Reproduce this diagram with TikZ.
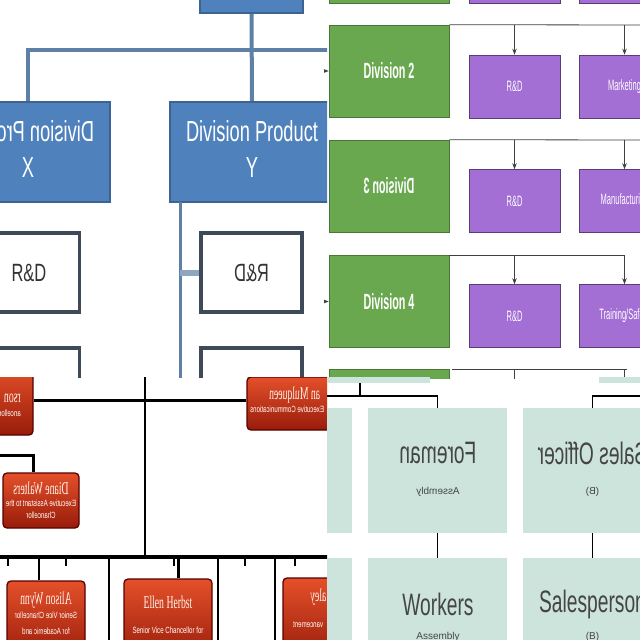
\documentclass[tikz,border=0pt]{standalone}
\usepackage{fontspec}
\setmainfont{Liberation Sans}
\newfontfamily\namefont{Liberation Serif}
\usepackage{graphicx}
\usepackage{xcolor}
\definecolor{divblue}{HTML}{4F81BD}
\definecolor{divblueline}{HTML}{3D6394}
\definecolor{linkblue}{HTML}{5E7FA6}
\definecolor{stubblue}{HTML}{8FA6C2}
\definecolor{slate}{HTML}{3E4A58}
\definecolor{divgreen}{HTML}{6AA84F}
\definecolor{deptpurple}{HTML}{A36FD4}
\definecolor{redtop}{HTML}{E4502A}
\definecolor{redbot}{HTML}{981C0A}
\definecolor{staffteal}{HTML}{CDE4DD}
\definecolor{tealtext}{HTML}{454545}
\usetikzlibrary{arrows.meta,positioning}
% squeezed (or mirrored) text
\newcommand{\sq}[2]{\scalebox{#1}[1]{#2}}
\newcommand{\twoline}[2]{\begin{tabular}{@{}c@{}}#1\\#2\end{tabular}}

\begin{document}
\begin{tikzpicture}[
  x=1pt, y=-1pt,
  divbox/.style={
    rectangle, inner sep=0pt,
    minimum width=164pt, minimum height=100pt,
    fill=divblue, draw=divblueline, line width=2pt,
    text=white, font=\fontsize{29}{36}\selectfont
  },
  rdbox/.style={
    rectangle, inner sep=0pt,
    minimum width=101pt, minimum height=79pt,
    fill=white, draw=slate, line width=3.5pt,
    text=black!80, font=\fontsize{25}{30}\selectfont
  },
  link/.style={draw=linkblue, line width=4pt},
  linkthin/.style={draw=linkblue, line width=3pt},
  stub/.style={draw=stubblue, line width=6pt},
  greenbox/.style={
    rectangle, inner sep=0pt,
    minimum width=120pt, minimum height=92pt,
    fill=divgreen, draw=divgreen!70!black, line width=0.6pt,
    text=white, font=\bfseries\fontsize{22}{26}\selectfont
  },
  deptbox/.style={
    rectangle, inner sep=0pt,
    minimum width=91pt, minimum height=63pt,
    fill=deptpurple, draw=deptpurple!55!black, line width=0.6pt,
    text=white, font=\fontsize{15}{18}\selectfont
  },
  tline/.style={draw=black!75, line width=0.8pt},
  tarrow/.style={tline, -{Stealth[length=6pt,width=4.5pt]}},
  redbox/.style={
    rectangle, rounded corners=4pt, inner sep=0pt,
    top color=redtop, bottom color=redbot,
    draw=black!65!red, line width=1.3pt
  },
  rname/.style={inner sep=0pt, text=white!92!orange, font=\namefont\fontsize{18}{20}\selectfont},
  rsub/.style={inner sep=0pt, text=white, font=\fontsize{9}{10}\selectfont},
  redline/.style={draw=black, line width=3pt},
  redthin/.style={draw=black, line width=1.6pt},
  staffbox/.style={
    rectangle, inner sep=0pt,
    minimum width=139pt, minimum height=125pt,
    fill=staffteal
  },
  bigtxt/.style={inner sep=0pt, text=tealtext, font=\fontsize{31}{36}\selectfont},
  smalltxt/.style={inner sep=0pt, text=tealtext, font=\fontsize{10}{12}\selectfont},
  brline/.style={draw=black, line width=1.6pt}
]
\fill[white] (0,0) rectangle (640,640);
\useasboundingbox (0,0) rectangle (640,640);

% top left: blue product divisions
\begin{scope}
\clip (0,0) rectangle (327,377);
\node[divbox, minimum width=103pt] (head) at (251.5,-37) {};
\node[divbox] (divX) at (28,152) {\sq{-0.63}{\twoline{Division Product}{X}}};
\node[divbox] (divY) at (252,152) {\sq{0.63}{\twoline{Division Product}{Y}}};
\node[rdbox] (rdX) at (29,272.5) {\sq{0.66}{R\&D}};
\node[rdbox] (rdY) at (251.5,272.5) {\sq{-0.66}{R\&D}};
\node[rdbox] (nextX) at (29,387.5) {};
\node[rdbox] (nextY) at (251.5,387.5) {};
\coordinate (busRight) at (332,50);
\coordinate (spineTop) at (180,202);
\coordinate (spineEnd) at (180,380);
\coordinate (stubY) at (180,272.5);
\draw[link] (head.south) -- (divY.north);
\draw[link] (divX.north) |- (busRight);
\draw[linkthin] (spineTop) -- (spineEnd);
\draw[stub] (stubY) -- (rdY.west);
\end{scope}

% top right: green divisions
\begin{scope}
\clip (324,0) rectangle (640,378);
\node[greenbox] (div1) at (389,-43) {};
\node[greenbox] (div2) at (389,71) {\sq{0.49}{Division 2}};
\node[greenbox] (div3) at (389,186) {\sq{-0.49}{Division 3}};
\node[greenbox] (div4) at (389,301.5) {\sq{0.49}{Division 4}};
\node[greenbox] (div5) at (389,415) {};
\node[deptbox] (rd1) at (514.5,-28.5) {};
\node[deptbox] (mk1) at (624.5,-28.5) {};
\node[deptbox] (rd2) at (514.5,86.5) {\sq{0.5}{R\&D}};
\node[deptbox] (mk2) at (624.5,86.5) {\sq{0.5}{Marketing}};
\node[deptbox] (rd3) at (514.5,201) {\sq{0.5}{R\&D}};
\node[deptbox] (mf3) at (624.5,201) {\sq{0.5}{Manufacturing}};
\node[deptbox] (rd4) at (514.5,316) {\sq{0.5}{R\&D}};
\node[deptbox] (ts4) at (624.5,316) {\sq{0.5}{Training/Safety}};
\node[deptbox] (rd5) at (514.5,430.5) {};
\node[deptbox] (ts5) at (624.5,430.5) {};
\coordinate (rowTwoEnd) at (645,25);
\coordinate (rowThreeEnd) at (645,140);
\coordinate (rowFiveStart) at (452,369);
\coordinate (rowFiveEnd) at (627,369);
\draw[tline] (div2.north east) -- (rowTwoEnd);
\draw[tline] (div3.north east) -- (rowThreeEnd);
\draw[tline] (div4.north east) -- (ts4.north |- div4.north);
\draw[tline] (rowFiveStart) -- (rowFiveEnd);
\draw[tarrow] (rd2.north |- div2.north) -- (rd2.north);
\draw[tarrow] (mk2.north |- div2.north) -- (mk2.north);
\draw[tarrow] (rd3.north |- div3.north) -- (rd3.north);
\draw[tarrow] (mf3.north |- div3.north) -- (mf3.north);
\draw[tarrow] (rd4.north |- div4.north) -- (rd4.north);
\draw[tarrow] (ts4.north |- div4.north) -- (ts4.north);
\draw[tarrow] (rd5.north |- rowFiveEnd) -- (rd5.north);
\draw[tarrow] (ts5.north |- rowFiveEnd) -- (ts5.north);
\draw[tarrow] ([xshift=-9pt]div2.west) -- (div2.west);
\draw[tarrow] ([xshift=-9pt]div4.west) -- (div4.west);
\end{scope}

% bottom left: red chancellor chart
\begin{scope}
\clip (0,377) rectangle (327,640);
\node[redbox, minimum width=80pt, minimum height=69pt] (chief) at (-7,400.5) {};
\node[redbox, minimum width=90pt, minimum height=53pt] (mulqueen) at (292,403.5) {};
\node[redbox, minimum width=76pt, minimum height=55pt] (diane) at (41,500.5) {};
\node[redbox, minimum width=78pt, minimum height=79pt] (alison) at (46,620.5) {};
\node[redbox, minimum width=88pt, minimum height=81pt] (ellen) at (168,619.5) {};
\node[redbox, minimum width=88pt, minimum height=82pt] (thirdVC) at (327,619) {};
\node[rname, anchor=east] (chiefN) at (21,398) {\sq{-0.54}{rson}};
\node[rsub, anchor=east] (chiefS) at (21,413) {\sq{-0.68}{ancellor}};
\node[rname, anchor=west] (mulqN) at (269,395) {\sq{-0.54}{an Mulqueen}};
\node[rsub, anchor=west] (mulqS) at (250,409) {\sq{-0.68}{Executive Communications}};
\node[rname] (dianeN) at (41,488) {\sq{-0.54}{Diane Walters}};
\node[rsub] (dianeS) at (41,503) {\sq{-0.68}{Executive Assistant to the}};
\node[rsub] (dianeT) at (41,515) {\sq{-0.68}{Chancellor}};
\node[rname] (alisonN) at (46,600) {\sq{-0.54}{Alison Wynn}};
\node[rsub] (alisonS) at (46,615) {\sq{-0.68}{Senior Vice Chancellor}};
\node[rsub] (alisonT) at (46,631) {\sq{-0.68}{for Academic and}};
\node[rname] (ellenN) at (168,602) {\sq{0.54}{Ellen Herbst}};
\node[rsub] (ellenS) at (168,630) {\sq{0.68}{Senior Vice Chancellor for}};
\node[rname, anchor=west] (thirdN) at (310,597) {\sq{-0.54}{aley}};
\node[rsub, anchor=west] (thirdS) at (293,625) {\sq{-0.68}{vancement}};
\coordinate (vcTop) at (145,370);
\coordinate (vcBus) at (145,557);
\coordinate (busL) at (-2,557);
\coordinate (busR) at (330,557);
\coordinate (dianeFrom) at (-2,455);
\draw[redline] (chief.east) -- (chief.east -| mulqueen.west);
\draw[redthin] (vcTop) -- (vcBus);
\draw[redline, line width=3.5pt] (busL) -- (busR);
\draw[redline] (dianeFrom) -| ([xshift=-8pt]diane.north);
\draw[redthin] ([xshift=-7pt]alison.north |- busR) -- ([xshift=-7pt]alison.north);
\draw[redline] ([xshift=10pt]ellen.north |- busR) -- ([xshift=10pt]ellen.north);
\foreach \tx in {8,66,174,245,295}
  \draw[redthin] (\tx,557) -- (\tx,566);
\foreach \tx in {109,218,275}
  \draw[redthin] (\tx,557) -- (\tx,645);
\end{scope}

% bottom right: teal staff boxes
\begin{scope}
\clip (327,377) rectangle (640,640);
\fill[staffteal] (327,376) rectangle (430,383);
\fill[staffteal] (599,376) rectangle (640,383);
\node[staffbox] (leftA) at (282.5,470.5) {};
\node[staffbox] (foreman) at (437.5,470.5) {};
\node[staffbox] (salesOff) at (592.5,470.5) {};
\node[staffbox] (leftB) at (282.5,620.5) {};
\node[staffbox] (workers) at (437.5,620.5) {};
\node[staffbox] (salesPer) at (592.5,620.5) {};
\node[bigtxt] (foremanT) at (438,453) {\sq{-0.62}{Foreman}};
\node[smalltxt] (foremanS) at (438,492) {\sq{-1}{Assembly}};
\node[bigtxt] (salesOffT) at (592.5,453) {\sq{-0.62}{Sales Officer}};
\node[smalltxt] (salesOffS) at (592.5,492) {\sq{-1}{(B)}};
\node[bigtxt] (workersT) at (438,604) {\sq{0.62}{Workers}};
\node[smalltxt] (workersS) at (438,637) {Assembly};
\node[bigtxt] (salesPerT) at (592.5,604) {\sq{0.62}{Salesperson}};
\node[smalltxt] (salesPerS) at (592.5,637) {(B)};
\coordinate (brLeft) at (325,396);
\coordinate (brRight) at (642,396);
\coordinate (brTickTop) at (360,383);
\coordinate (brTickFoot) at (360,396);
\draw[brline] (foreman.north) |- (brLeft);
\draw[brline] (brTickTop) -- (brTickFoot);
\draw[brline] (salesOff.north) |- (brRight);
\draw[brline] (foreman.south) -- (workers.north);
\draw[brline] (salesOff.south) -- (salesPer.north);
\end{scope}
\end{tikzpicture}
\end{document}
